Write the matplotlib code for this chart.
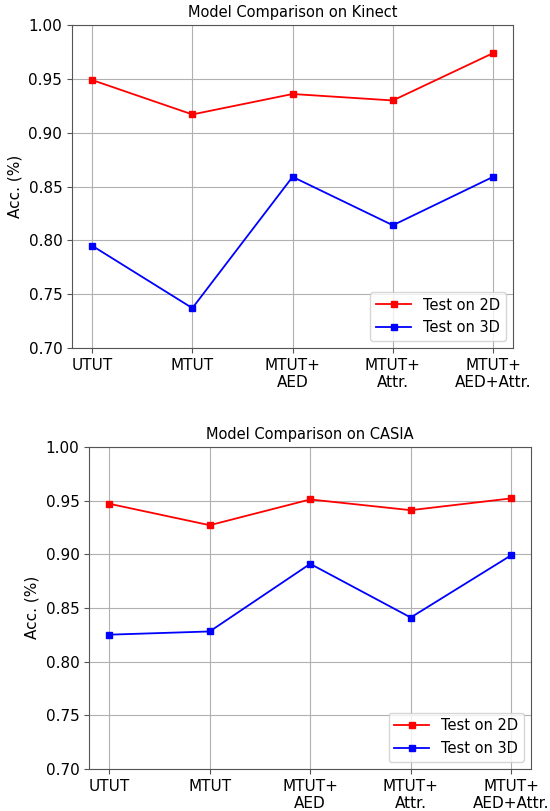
import matplotlib
matplotlib.use("Agg")
import matplotlib.pyplot as plt

models = ["UTUT", "MTUT", "MTUT+\nAED", "MTUT+\nAttr.", "MTUT+\nAED+Attr."]

kinect_2d = [0.949, 0.917, 0.936, 0.930, 0.974]
kinect_3d = [0.795, 0.737, 0.859, 0.814, 0.859]

casia_2d = [0.947, 0.927, 0.951, 0.941, 0.952]
casia_3d = [0.825, 0.828, 0.891, 0.841, 0.899]


def draw_panel(ax, acc_2d, acc_3d, title):
    x = range(len(models))
    ax.plot(x, acc_2d, color="red", marker="s", markersize=5, lw=1.3, label="Test on 2D")
    ax.plot(x, acc_3d, color="blue", marker="s", markersize=5, lw=1.3, label="Test on 3D")
    ax.set_title(title, fontsize=10.5)
    ax.set_ylabel("Acc. (%)", fontsize=11)
    ax.set_ylim(0.70, 1.00)
    ax.set_xticks(list(x))
    ax.set_xticklabels(models)
    ax.tick_params(labelsize=11, color="#555555")
    for s in ax.spines.values():
        s.set_color("#555555")
    ax.grid(True)
    ax.legend(loc="lower right", fontsize=10.5, handlelength=2.4)


fig = plt.figure(figsize=(5.5, 8.11), dpi=100)
ax1 = fig.add_axes([0.131, 0.571, 0.802, 0.398])
ax2 = fig.add_axes([0.162, 0.052, 0.804, 0.397])

draw_panel(ax1, kinect_2d, kinect_3d, "Model Comparison on Kinect")
draw_panel(ax2, casia_2d, casia_3d, "Model Comparison on CASIA")

fig.savefig("out.png", dpi=100)
